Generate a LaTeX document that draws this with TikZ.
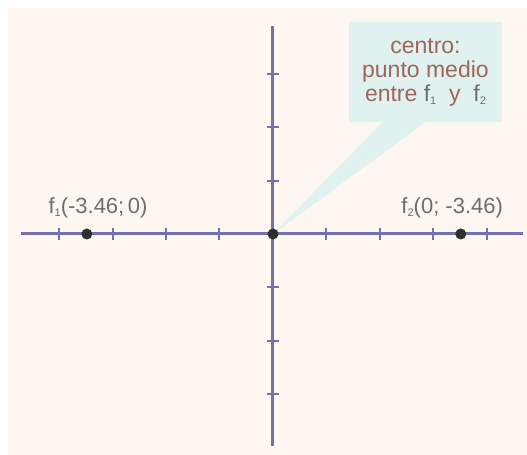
\documentclass[tikz,border=0pt]{standalone}
\usepackage{fontspec}
\setmainfont{Liberation Sans}
\usetikzlibrary{positioning,calc}
\definecolor{creambg}{HTML}{FEF6F0}
\definecolor{axiscol}{HTML}{7571AF}
\definecolor{dotcol}{HTML}{2E2E2E}
\definecolor{lblgrey}{HTML}{6E6E6E}
\definecolor{notebg}{HTML}{E0F2F0}
\definecolor{notefg}{HTML}{A0655A}
\tikzset{
  axisline/.style = {draw=axiscol, line width=3pt},
  tickmark/.style = {draw=axiscol, line width=2pt},
  focus/.style    = {fill=dotcol, circle, inner sep=0pt, minimum size=11pt},
  coordlbl/.style = {text=lblgrey, inner sep=0pt, font=\fontsize{22}{24}\selectfont},
  note/.style     = {fill=notebg, text=notefg, align=center, inner sep=0pt,
                     minimum width=153pt, minimum height=100pt,
                     font=\fontsize{23}{24}\selectfont},
}
\newcommand{\lowsub}[1]{\raisebox{-0.3ex}{\fontsize{11}{11}\selectfont #1}}
\newcommand{\fsub}[1]{{\color{lblgrey}f\lowsub{#1}}}

\begin{document}
\begin{tikzpicture}[x=53.5pt, y=53.5pt]
\useasboundingbox (-5.103,-4.131) rectangle (4.748,4.374);
\fill[creambg] (-4.953,-4.131) rectangle (4.748,4.224);

\coordinate (o) at (0,0);
% callout
\node[note] (centro) at (2.85,3.028)
   {centro:\\punto medio\\entre \fsub{1}\ \ y\ \ \fsub{2}};
\fill[notebg] ($(centro.south)+(-0.79,0.02)$) -- ($(centro.south)+(0.03,0.02)$) -- (o) -- cycle;

% axes
\coordinate (xl) at (-4.71,0);
\coordinate (xr) at (4.67,0);
\coordinate (yb) at (0,-3.96);
\coordinate (yt) at (0,3.89);
\draw[axisline] (xl) -- (xr);
\draw[axisline] (yb) -- (yt);
\foreach \k in {-4,-3,-2,-1,1,2,3,4}
  \draw[tickmark] (\k,-6pt) -- (\k,6pt);
\foreach \k in {-3,-2,-1,1,2,3}
  \draw[tickmark] (-6pt,\k) -- (6pt,\k);

% foci
\node[focus] (f1) at (-3.48,0) {};
\node[focus] (f2) at (3.51,0) {};
\node[focus] at (o) {};
\node[coordlbl] (l1) at (-3.27,0.49) {f\lowsub{1}(-3.46;\,0)};
\node[coordlbl] (l2) at (3.35,0.49) {f\lowsub{2}(0; -3.46)};
\end{tikzpicture}
\end{document}
